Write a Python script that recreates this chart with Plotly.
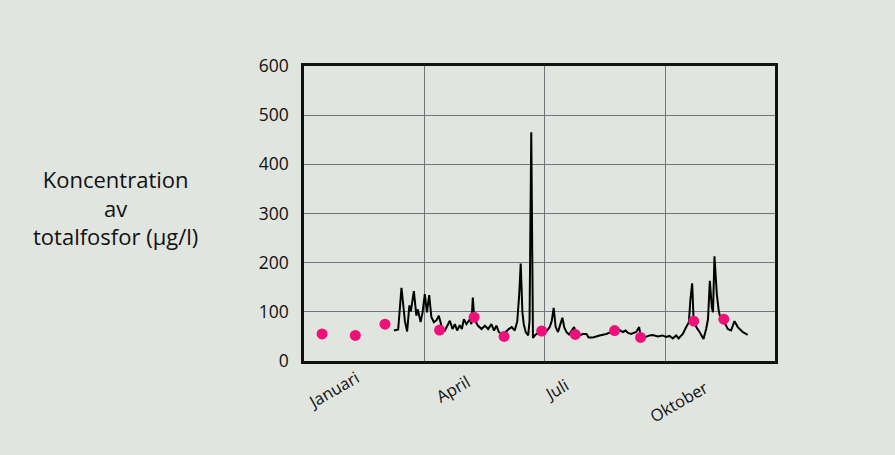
import plotly.graph_objects as go

# Continuous measurements (day of year, totalfosfor µg/l)
line_day = [67.1, 70.3, 72.8, 75.4, 77.1, 78.8, 79.9, 82.2, 84.1, 85.2, 87.3, 88.8, 90.5, 92.1, 93.8,
            95.5, 97.4, 99.4, 101.1, 103.4, 105.7, 107.6, 109.5, 111.5, 113.3, 115.0, 117.0, 118.6,
            120.1, 122.1, 124.6, 125.8, 126.9, 128.0, 130.7, 133.5, 136.0, 138.5, 141.0, 143.0,
            144.8, 146.6, 149.6, 151.9, 154.1, 156.4, 158.7, 160.6, 162.1, 163.2, 164.5, 165.5,
            167.0, 168.9, 169.9, 171.2, 172.5, 174.2, 176.3, 178.4, 180.6, 182.9, 185.2, 186.7,
            188.2, 189.7, 191.5, 193.3, 194.8, 196.2, 197.8, 199.8, 201.6, 203.7, 205.3, 207.4,
            210.4, 213.0, 214.7, 218.0, 223.0, 228.1, 231.9, 234.4, 238.2, 240.7, 242.7, 244.5,
            247.0, 250.8, 253.0, 254.1, 257.1, 260.9, 263.4, 267.2, 270.5, 273.5, 276.0, 278.5,
            281.1, 282.9, 286.1, 288.7, 290.7, 291.9, 293.2, 294.2, 296.3, 298.8, 301.8, 303.8,
            305.2, 306.6, 308.1, 309.0, 310.1, 311.9, 313.4, 315.2, 317.1, 318.4, 320.2, 322.7,
            324.1, 325.3, 327.8, 331.5, 335.3]
line_value = [62, 64, 149, 81, 60, 113, 101, 142, 92, 105, 79, 99, 136, 99, 134,
              89, 79, 83, 92, 69, 62, 71, 82, 65, 75, 62, 73, 65,
              85, 75, 85, 75, 129, 85, 72, 65, 72, 65, 75, 62,
              72, 59, 53, 59, 65, 69, 62, 81, 136, 198, 99, 75,
              59, 52, 82, 465, 47, 53, 57, 61, 65, 61, 69, 81,
              108, 69, 59, 75, 88, 69, 59, 54, 62, 69, 55, 52,
              55, 55, 48, 48, 52, 55, 59, 61, 63, 59, 62, 57,
              55, 59, 69, 51, 48, 52, 53, 50, 52, 49, 51, 46,
              52, 46, 55, 69, 79, 126, 158, 89, 69, 59, 45, 65,
              85, 163, 109, 99, 213, 136, 101, 82, 81, 75, 65, 62,
              71, 81, 69, 59, 53]

# Monthly samples
sample_day = [12.6, 37.8, 60.3, 101.7, 127.9, 150.6, 179.1, 204.6, 234.4, 254.1, 294.4, 317.2]
sample_value = [55, 52, 75, 63, 89, 50, 61, 54, 62, 48, 81, 85]

# Axis labels
month_grid_day = [90, 181, 273]
month_names = ["Januari", "April", "Juli", "Oktober"]
y_ticks = [0, 100, 200, 300, 400, 500, 600]

BG = "#e1e5e0"
GRID = "#6f777c"

fig = go.Figure()
fig.add_trace(go.Scatter(x=line_day, y=line_value, mode="lines",
                         line=dict(color="#000000", width=2), showlegend=False))
fig.add_trace(go.Scatter(x=sample_day, y=sample_value, mode="markers",
                         marker=dict(color="#f0107a", size=11), showlegend=False))

label_pos = [(21, -0.095), (112, -0.093), (190, -0.098), (283, -0.138)]
for name, (xd, yp) in zip(month_names, label_pos):
    fig.add_annotation(x=xd, y=yp, xref="x", yref="paper", text=name, showarrow=False,
                       textangle=-30, xanchor="center", yanchor="middle",
                       font=dict(family="Open Sans", size=16.5, color="#111111"))

fig.add_annotation(x=-0.4, y=0.52, xref="paper", yref="paper",
                   text="Koncentration<br>av<br>totalfosfor (µg/l)", showarrow=False,
                   align="center", xanchor="center", yanchor="middle",
                   font=dict(family="Open Sans", size=22, color="#111111"))

fig.update_layout(
    width=895, height=455,
    margin=dict(l=304, r=120, t=66, b=94),
    paper_bgcolor=BG, plot_bgcolor=BG,
    xaxis=dict(range=[-1.1, 356], tickvals=month_grid_day, showticklabels=False,
               showgrid=True, gridcolor=GRID, gridwidth=1.3, zeroline=False,
               showline=True, mirror=True, linecolor="#111111", linewidth=2.5, ticks=""),
    yaxis=dict(range=[0, 600], tickvals=y_ticks, showgrid=True, gridcolor=GRID, gridwidth=1.3,
               zeroline=False, showline=True, mirror=True, linecolor="#111111", linewidth=2.5,
               ticks="", ticklabelstandoff=9,
               tickfont=dict(family="Open Sans", size=17.5, color="#111111")),
)

fig.write_html("out.html", config={"displayModeBar": False},
               post_script="document.body.style.margin='0';document.body.style.background='" + BG + "';")
